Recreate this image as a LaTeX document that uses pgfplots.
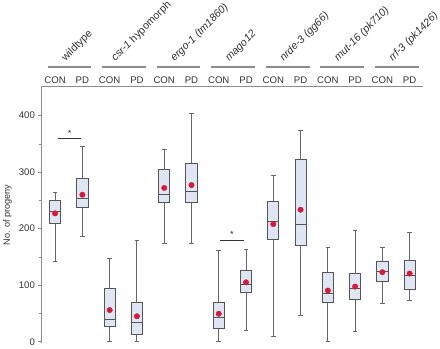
\documentclass[border=0pt]{standalone}
\usepackage{pgfplots}
\pgfplotsset{compat=1.18}
\usepackage{fontspec}
\setmainfont{Liberation Sans}
\definecolor{boxfill}{HTML}{DFE6F3}
\definecolor{boxedge}{HTML}{555555}
\definecolor{whisk}{HTML}{666666}
\definecolor{meanred}{HTML}{D9183B}
\definecolor{axgray}{HTML}{8C8C8C}
\definecolor{txt}{HTML}{333333}
% pos, lower whisker, Q1, median, Q3, upper whisker
\newcommand{\bp}[6]{%
  \pgfmathsetmacro\bxL{#1-0.205}\pgfmathsetmacro\bxR{#1+0.205}%
  \pgfmathsetmacro\cpL{#1-0.085}\pgfmathsetmacro\cpR{#1+0.085}%
  \edef\bptemp{%
  \noexpand\addplot[draw=whisk, line width=0.9pt] coordinates {(#1,#2) (#1,#3)};
  \noexpand\addplot[draw=whisk, line width=0.9pt] coordinates {(#1,#5) (#1,#6)};
  \noexpand\addplot[draw=whisk, line width=0.9pt] coordinates {(\cpL,#2) (\cpR,#2)};
  \noexpand\addplot[draw=whisk, line width=0.9pt] coordinates {(\cpL,#6) (\cpR,#6)};
  \noexpand\addplot[draw=boxedge, fill=boxfill, line width=0.9pt] coordinates {(\bxL,#3) (\bxR,#3) (\bxR,#5) (\bxL,#5)} -- cycle;
  \noexpand\addplot[draw=boxedge, line width=0.9pt] coordinates {(\bxL,#4) (\bxR,#4)};
  }\bptemp}
\begin{document}
\begin{tikzpicture}
\begin{axis}[
  scale only axis,
  width=377pt, height=254pt,
  xmin=0.5, xmax=14.5, ymin=-3, ymax=452,
  axis x line*=top, axis y line*=left,
  axis line style={draw=axgray, line width=0.7pt},
  xtick={1,2,...,14},
  xticklabels={CON,PD,CON,PD,CON,PD,CON,PD,CON,PD,CON,PD,CON,PD},
  x tick style={draw=none},
  extra x ticks={0.5,1.5,...,14.5},
  extra x tick labels={},
  extra x tick style={tick style={draw=axgray, line width=0.6pt}},
  ytick={0,100,200,300,400},
  minor ytick={50,150,250,350},
  tick align=outside,
  major tick length=3pt, minor tick length=2.5pt,
  y tick style={draw=axgray, line width=0.6pt},
  ticklabel style={font=\fontsize{9.5}{11}\selectfont, text=txt},
  xticklabel style={yshift=-3.5pt},
  /pgf/number format/assume math mode=true,
  ylabel={No. of progeny},
  ylabel style={font=\fontsize{9}{11}\selectfont, text=txt},
  clip=false,
]
\bp{1}{142}{210}{230.5}{250.6}{263.5}
\bp{2}{187}{238}{253}{288}{345}
\bp{3}{0}{26.5}{40}{95}{148}
\bp{4}{0}{12}{33.5}{69}{179}
\bp{5}{173}{247}{261}{304.7}{340.5}
\bp{6}{173}{246.5}{265}{316}{403}
\bp{7}{0}{23.5}{43}{69}{162}
\bp{8}{20.5}{88}{101}{126}{163.5}
\bp{9}{9.5}{181}{212}{248}{293.5}
\bp{10}{46.5}{170}{207.5}{322}{373.5}
\bp{11}{0}{70}{86}{122}{167.5}
\bp{12}{18}{74.5}{95}{120}{196}
\bp{13}{67.5}{106}{123.5}{142}{167}
\bp{14}{73}{93}{117}{143}{193.5}
% means
\addplot[only marks, mark=*, mark size=2.7pt, color=meanred] coordinates {
(1,227) (2,260) (3,56) (4,45) (5,272) (6,277) (7,49.5) (8,105)
(9,208) (10,233.5) (11,90.5) (12,97.5) (13,123) (14,120.5)};
% significance bars
\addplot[draw=txt, line width=0.8pt] coordinates {(1.11,359) (1.96,359)};
\addplot[draw=txt, line width=0.8pt] coordinates {(7.04,180) (7.92,180)};
\node[text=txt, font=\fontsize{9}{10}\selectfont] at (axis cs:1.53,369) {*};
\node[text=txt, font=\fontsize{9}{10}\selectfont] at (axis cs:7.48,190) {*};
% group lines
\addplot[draw=axgray, line width=1.1pt] coordinates {(0.73,486) (2.33,486)};
\addplot[draw=axgray, line width=1.1pt] coordinates {(2.73,486) (4.33,486)};
\addplot[draw=axgray, line width=1.1pt] coordinates {(4.73,486) (6.33,486)};
\addplot[draw=axgray, line width=1.1pt] coordinates {(6.73,486) (8.33,486)};
\addplot[draw=axgray, line width=1.1pt] coordinates {(8.73,486) (10.33,486)};
\addplot[draw=axgray, line width=1.1pt] coordinates {(10.73,486) (12.33,486)};
\addplot[draw=axgray, line width=1.1pt] coordinates {(12.73,486) (14.33,486)};
\node[rotate=45, anchor=base west, inner sep=0pt, text=txt, font=\fontsize{10.5}{12}\selectfont] at (axis cs:1.38,495) {wildtype};
\node[rotate=45, anchor=base west, inner sep=0pt, text=txt, font=\fontsize{10.5}{12}\selectfont] at (axis cs:3.2,495) {\itshape csr-1 \upshape hypomorph};
\node[rotate=45, anchor=base west, inner sep=0pt, text=txt, font=\fontsize{10.5}{12}\selectfont] at (axis cs:5.38,495) {\itshape ergo-1 (tm1860)};
\node[rotate=45, anchor=base west, inner sep=0pt, text=txt, font=\fontsize{10.5}{12}\selectfont] at (axis cs:7.38,495) {\itshape mago12};
\node[rotate=45, anchor=base west, inner sep=0pt, text=txt, font=\fontsize{10.5}{12}\selectfont] at (axis cs:9.38,495) {\itshape nrde-3 (gg66)};
\node[rotate=45, anchor=base west, inner sep=0pt, text=txt, font=\fontsize{10.5}{12}\selectfont] at (axis cs:11.38,495) {\itshape mut-16 (pk710)};
\node[rotate=45, anchor=base west, inner sep=0pt, text=txt, font=\fontsize{10.5}{12}\selectfont] at (axis cs:13.38,495) {\itshape rrf-3 (pk1426)};
\end{axis}
\end{tikzpicture}
\end{document}
